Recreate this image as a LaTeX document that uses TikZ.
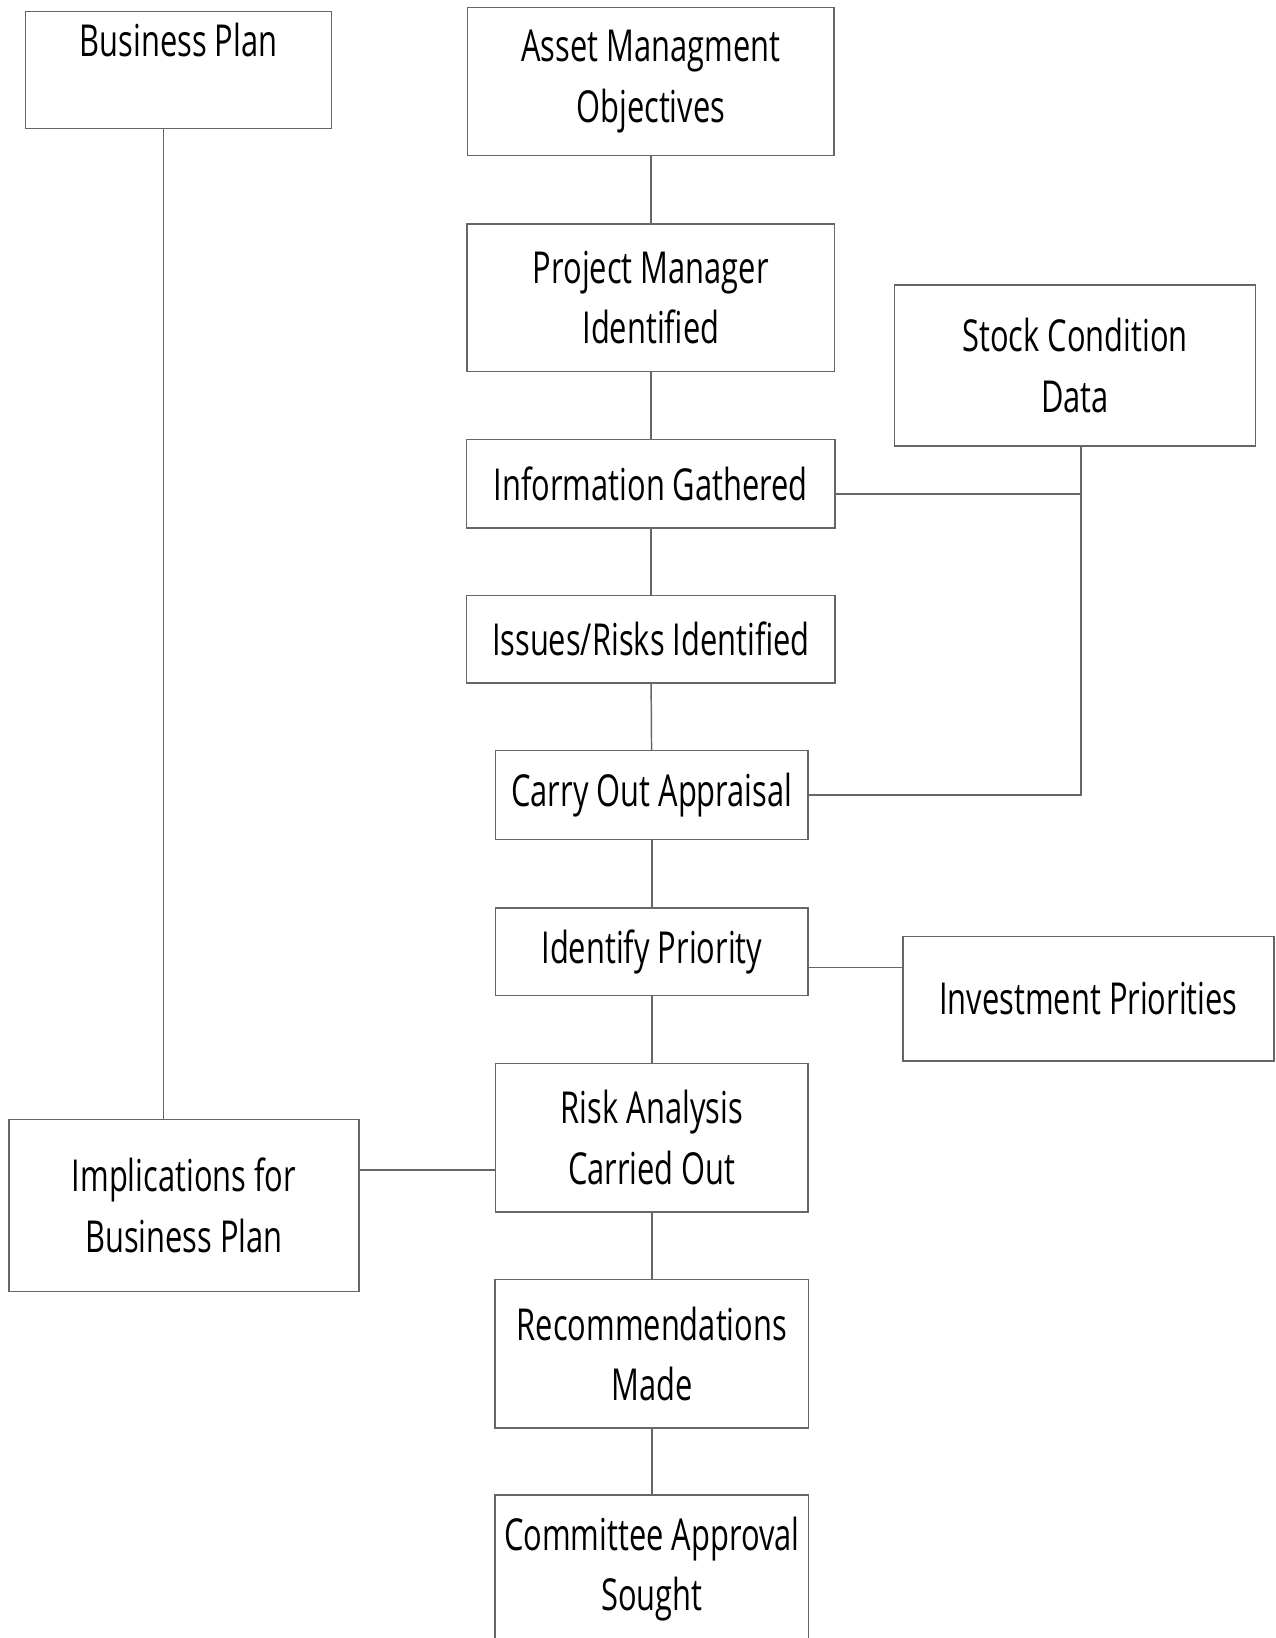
\documentclass[tikz,border=0pt]{standalone}
\usepackage{fontspec}
\setmainfont{Open Sans}[FakeStretch=0.7]
\usepackage{tikz}
\usetikzlibrary{calc}

\begin{document}
\begin{tikzpicture}[x=0.02cm,y=-0.02cm,
  box/.style={draw=black!60,line width=0.8pt,align=center,inner sep=0pt,
    font=\fontsize{24}{33}\selectfont},
  link/.style={draw=black!60,line width=0.8pt}]
\useasboundingbox (0,0) rectangle (1221,1568);
\node[box,minimum width=5.86cm,minimum height=2.24cm] (plan) at (171,67) {Business Plan\\~};
\node[box,minimum width=7.02cm,minimum height=2.84cm] (objectives) at (623,78) {Asset Managment\\Objectives};
\node[box,minimum width=7.04cm,minimum height=2.82cm] (manager) at (623,285) {Project Manager\\Identified};
\node[box,minimum width=6.92cm,minimum height=3.08cm] (stock) at (1029,350) {Stock Condition\\Data};
\node[box,minimum width=7.06cm,minimum height=1.70cm] (info) at (623,463) {Information Gathered};
\node[box,minimum width=7.06cm,minimum height=1.68cm] (issues) at (623,612) {Issues/Risks Identified};
\node[box,minimum width=5.98cm,minimum height=1.70cm] (appraisal) at (624,761) {Carry Out Appraisal};
\node[box,minimum width=5.98cm,minimum height=1.68cm] (priority) at (624,911) {Identify Priority};
\node[box,minimum width=7.10cm,minimum height=2.38cm] (invest) at (1042,956) {Investment Priorities};
\node[box,minimum width=5.98cm,minimum height=2.84cm] (risk) at (624,1089) {Risk Analysis\\Carried Out};
\node[box,minimum width=6.70cm,minimum height=3.30cm] (impl) at (176,1154) {Implications for\\Business Plan};
\node[box,minimum width=6.00cm,minimum height=2.84cm] (recommend) at (624,1296) {Recommendations\\Made};
\node[box,minimum width=6.00cm,minimum height=2.84cm] (committee) at (624,1502) {Committee Approval\\Sought};
\coordinate (bend) at (1035,0);
\draw[link] (objectives) -- (manager);
\draw[link] (manager) -- (info);
\draw[link] (info) -- (issues);
\draw[link] (issues) -- (appraisal);
\draw[link] (appraisal) -- (priority);
\draw[link] (priority) -- (risk);
\draw[link] (risk) -- (recommend);
\draw[link] (recommend) -- (committee);
\draw[link] ([yshift=-0.2cm]info.east) -- ([yshift=-0.2cm]info.east -| bend);
\draw[link] (stock.south -| bend) |- (appraisal.east);
\draw[link] ([yshift=-0.3cm]priority.east) -- ([yshift=-0.3cm]priority.east -| invest.west);
\draw[link] ([yshift=-0.62cm]risk.west) -- ([yshift=-0.62cm]risk.west -| impl.east);
\draw[link] ([xshift=-0.29cm]plan.south) -- ([xshift=-0.29cm]plan.south |- impl.north);
\end{tikzpicture}
\end{document}
